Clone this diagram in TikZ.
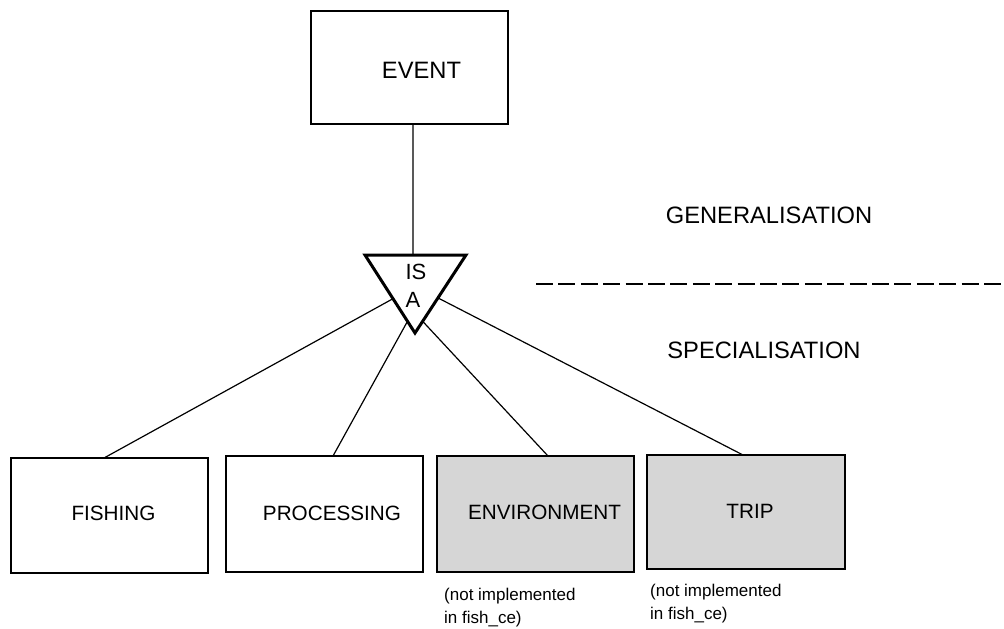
\documentclass[tikz,border=0pt]{standalone}
\usepackage{fontspec}
\setmainfont{Liberation Sans}
\usetikzlibrary{calc}
\definecolor{boxgray}{RGB}{214,214,214}
\begin{document}
\begin{tikzpicture}[x=1pt,y=-1pt,
  entity/.style={draw,line width=2.8pt,inner sep=0pt,outer sep=0pt,anchor=north west,fill=white},
  grayentity/.style={entity,fill=boxgray},
  boxlabel/.style={inner sep=0pt,font=\fontsize{20.7}{24}\selectfont},
  biglabel/.style={inner sep=0pt,font=\fontsize{23.7}{28}\selectfont},
  isalabel/.style={inner sep=0pt,font=\fontsize{22}{26}\selectfont},
  note/.style={inner sep=0pt,anchor=west,align=left,font=\fontsize{17}{23}\selectfont},
  conn/.style={line width=1.2pt},
  divider/.style={line width=2pt,dash pattern=on 17pt off 5.4pt}]
\useasboundingbox (0,0) rectangle (1004,629);

% triangle corners
\coordinate (tl) at (365,255);
\coordinate (tr) at (466,255);
\coordinate (ta) at (415,333);

% boxes
\node[entity,minimum width=197pt,minimum height=113pt] (event) at (311,11) {};
\node[entity,minimum width=197pt,minimum height=115pt] (fishing) at (11,458) {};
\node[entity,minimum width=197pt,minimum height=116pt] (processing) at (226,456) {};
\node[grayentity,minimum width=197pt,minimum height=116pt] (environment) at (437,456) {};
\node[grayentity,minimum width=198pt,minimum height=114pt] (trip) at (647,455) {};

% connectors
\draw[conn] ($(event.south west)+(102,0)$) -- ($(tl)!0.475!(tr)$);
\draw[conn] ($(fishing.north west)+(93,0)$) -- ($(tl)!0.56!(ta)$);
\draw[conn] ($(processing.north west)+(107,0)$) -- ($(tl)!0.85!(ta)$);
\draw[conn] ($(environment.north west)+(111,0)$) -- ($(ta)!0.15!(tr)$);
\draw[conn] ($(trip.north west)+(96,0)$) -- ($(ta)!0.45!(tr)$);

% ISA triangle
\draw[line width=3pt,line join=miter,fill=white] (tl) -- (tr) -- (ta) -- cycle;
\node[isalabel] (isa1) at (416,272) {IS};
\node[isalabel] (isa2) at (413,300) {A};

% labels
\node[biglabel] (eventlbl) at (421.5,70) {EVENT};
\node[boxlabel] (fishinglbl) at (113.5,513) {FISHING};
\node[boxlabel] (processinglbl) at (332,513) {PROCESSING};
\node[boxlabel] (environmentlbl) at (544.5,512) {ENVIRONMENT};
\node[boxlabel] (triplbl) at (750,511) {TRIP};

\node[biglabel] (gen) at (769,215) {GENERALISATION};
\node[biglabel] (spec) at (764,350) {SPECIALISATION};

% divider
\coordinate (d1) at (536,284);
\coordinate (d2) at (1004,284);
\draw[divider] (d1) -- (d2);

% notes
\node[note] (envnote) at (444,608) {(not implemented\\in fish\_ce)};
\node[note] (tripnote) at (650,604) {(not implemented\\in fish\_ce)};
\end{tikzpicture}
\end{document}
